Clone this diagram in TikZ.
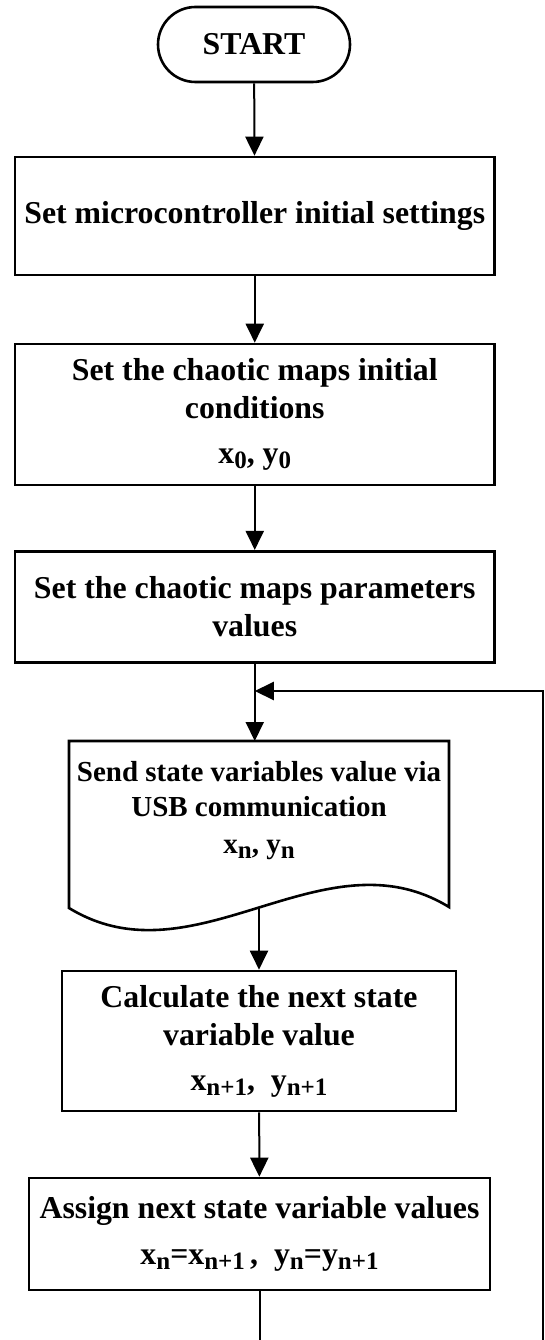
\documentclass[tikz,border=0pt]{standalone}
\usepackage{fontspec}
\setmainfont{Liberation Serif}
\usetikzlibrary{arrows.meta}
\usetikzlibrary{calc}
\usetikzlibrary{shapes.misc}

\newcommand{\lowidx}[1]{\raisebox{-5pt}{\fontsize{25}{25}\selectfont #1}}

\begin{document}
\begin{tikzpicture}[x=1pt, y=-1pt,
	line/.style={-{Triangle[length=19pt,width=18pt]}, line width=2pt},
	box/.style={draw, rectangle, line width=2.6pt, align=center, inner sep=0pt,
		font=\bfseries\fontsize{31.8}{38}\selectfont}]

	\useasboundingbox (0,0) rectangle (544,1340);

	\node[box, rounded rectangle, minimum width=192pt, minimum height=75pt] (start) at (254,44.5) {START};

	\node[box, minimum width=479.5pt, minimum height=118pt] (setup) at (254.75,216) {Set microcontroller initial settings};

	\node[box, minimum width=479.5pt, minimum height=141pt] (init) at (254.75,414.5)
		{Set the chaotic maps initial\\conditions\\[7pt]x\lowidx{0}, y\lowidx{0}};

	\node[box, minimum width=479.5pt, minimum height=111.5pt] (param) at (254.75,607)
		{Set the chaotic maps parameters\\values};

	% document shape
	\coordinate (sendtl) at (69,741);
	\coordinate (sendtr) at (449,741);
	\coordinate (sendbl) at (69,908);
	\coordinate (sendbr) at (449,907);
	\draw[line width=2.6pt] (sendbl) -- (sendtl) -- (sendtr) -- (sendbr)
		.. controls (323,830) and (195,985) .. coordinate[pos=0.5] (sendout) (sendbl) -- cycle;
	\node[align=center, font=\bfseries\fontsize{29}{35}\selectfont] (send) at (259,811)
		{Send state variables value via\\USB communication\\[2pt]x\lowidx{n}, y\lowidx{n}};

	\node[box, minimum width=394pt, minimum height=140pt] (calc) at (259,1041)
		{Calculate the next state\\variable value\\[7pt]x\lowidx{n+1},\ \ y\lowidx{n+1}};

	\node[box, minimum width=461pt, minimum height=112pt] (assign) at (259.5,1234)
		{Assign next state variable values\\[8pt]x\lowidx{n}=x\lowidx{n+1}\,,\ \ y\lowidx{n}=y\lowidx{n+1}};

	\coordinate (exit) at (assign.south |- 0,1340);
	\coordinate (loopbot) at (543,1340);
	\coordinate (loopturn) at (543,691);

	\draw[line] (start) -- (setup);
	\draw[line] (setup) -- (init);
	\draw[line] (init) -- (param);
	\draw[line] (param.south) -- (param.south |- sendtl);
	\draw[line] (sendout) -- (sendout |- calc.north);
	\draw[line] (calc) -- (assign);
	\draw[line width=2pt] (assign.south) -- (exit);
	\draw[line] (loopbot) -- (loopturn) -- (loopturn -| param.south);

\end{tikzpicture}
\end{document}
